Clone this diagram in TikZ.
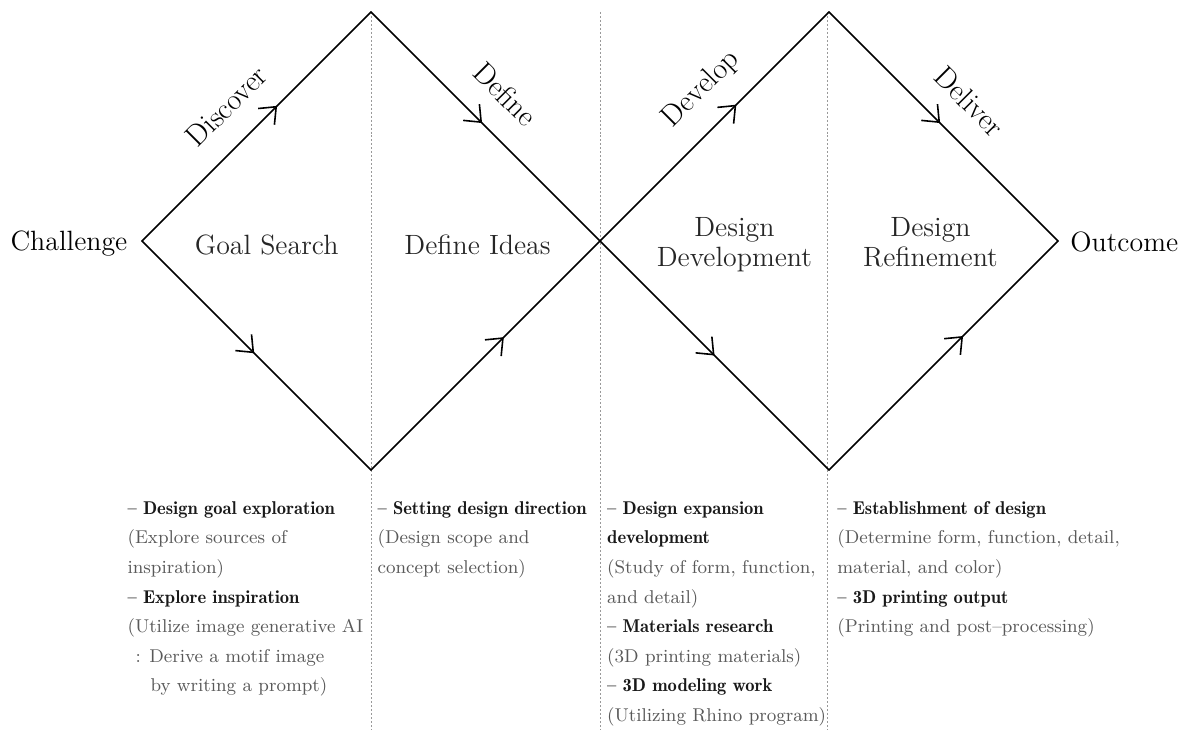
\documentclass[tikz,border=0pt]{standalone}
\usepackage{xcolor}
\usepackage{tikz}
\usetikzlibrary{arrows.meta,decorations.markings}

% semibold heading line in the notes under the diamonds
\newcommand{\stagehead}[1]{{\fontseries{b}\selectfont\color{black!90}#1}}

\begin{document}
\begin{tikzpicture}[
    edge/.style={line width=0.8pt, line cap=round},
    barb at/.style={postaction={decorate}, decoration={markings,
        mark=at position #1 with {\arrow{Straight Barb[length=7pt,width=11.5pt]}}}},
    divider/.style={gray!80, line width=0.45pt, dash pattern=on 1pt off 1pt},
    phase/.style={font=\fontsize{14}{15}\selectfont, text=black!85, align=center},
    stage/.style={font=\fontsize{15}{16}\selectfont},
    notes/.style={font=\fontsize{9.3}{14.85}\selectfont, align=left,
        anchor=north west, inner sep=0pt, text=black!65}
  ]
    \useasboundingbox (-10.584,-8.626) rectangle (10.354,4.251);

    % Corners of the two diamonds
    \coordinate (chl) at (-8.08,0);
    \coordinate (top1) at (-4.04,4.04);
    \coordinate (bot1) at (-4.04,-4.04);
    \coordinate (mid) at (0,0);
    \coordinate (top2) at (4.04,4.04);
    \coordinate (bot2) at (4.04,-4.04);
    \coordinate (out) at (8.08,0);

    % Dotted column lines
    \draw[divider] (-4.04,4.04) -- (-4.04,-8.63);
    \draw[divider] (0,4.04) -- (0,-8.63);
    \draw[divider] (4.02,4.04) -- (4.02,-8.63);

    % Diamond edges
    \draw[edge, barb at=0.59] (chl) -- (top1);
    \draw[edge, barb at=0.49] (chl) -- (bot1);
    \draw[edge, barb at=0.485] (top1) -- (mid);
    \draw[edge, barb at=0.58] (bot1) -- (mid);
    \draw[edge, barb at=0.595] (mid) -- (top2);
    \draw[edge, barb at=0.5] (mid) -- (bot2);
    \draw[edge, barb at=0.485] (top2) -- (out);
    \draw[edge, barb at=0.585] (bot2) -- (out);

    % Start and end
    \node[font=\fontsize{14}{15}\selectfont, anchor=base east, inner sep=0pt] (challenge) at (-8.33,-0.16) {Challenge};
    \node[font=\fontsize{14}{15}\selectfont, anchor=base west, inner sep=0pt] (outcome) at (8.29,-0.18) {Outcome};

    % Stage names along the edges
    \node[stage, rotate=45] (discover) at (-6.59,2.38) {Discover};
    \node[stage, rotate=-45] (define) at (-1.67,2.59) {Define};
    \node[stage, rotate=45] (develop) at (1.79,2.68) {Develop};
    \node[stage, rotate=-45] (deliver) at (6.52,2.46) {Deliver};

    % Phase names inside
    \node[phase] (goal) at (-5.88,-0.064) {Goal Search};
    \node[phase] (ideas) at (-2.16,-0.064) {Define Ideas};
    \node[phase] (devel) at (2.37,-0.068) {Design\\Development};
    \node[phase] (refine) at (5.83,-0.02) {Design\\Refinement};

    % Notes under each column
    \node[notes] (goalnotes) at (-8.34,-4.45) {\strut\stagehead{-- Design goal exploration}\\
      (Explore sources of\\
      inspiration)\\
      \stagehead{-- Explore inspiration}\\
      (Utilize image generative AI\\
      \hspace*{4pt}: Derive a motif image\\
      \hspace*{11.5pt}by writing a prompt)};
    \node[notes] (ideanotes) at (-3.93,-4.45) {\strut\stagehead{-- Setting design direction}\\
      (Design scope and\\
      concept selection)};
    \node[notes] (develnotes) at (0.12,-4.45) {\strut\stagehead{-- Design expansion}\\
      \stagehead{development}\\
      (Study of form, function,\\
      and detail)\\
      \stagehead{-- Materials research}\\
      (3D printing materials)\\
      \stagehead{-- 3D modeling work}\\
      (Utilizing Rhino program)};
    \node[notes] (refinenotes) at (4.18,-4.45) {\strut\stagehead{-- Establishment of design}\\
      (Determine form, function, detail,\\
      material, and color)\\
      \stagehead{-- 3D printing output}\\
      (Printing and post--processing)};
\end{tikzpicture}
\end{document}
